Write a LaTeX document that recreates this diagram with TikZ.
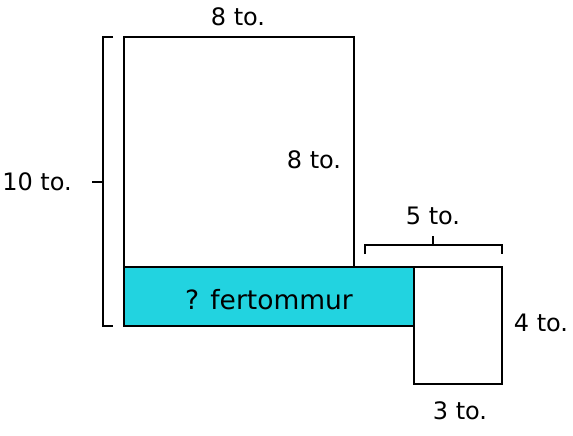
\documentclass[tikz,border=0pt]{standalone}
\usepackage{fontspec}
\setmainfont{DejaVu Sans}
\usetikzlibrary{positioning}
\definecolor{fillcyan}{HTML}{22D3E0}

\begin{document}
\begin{tikzpicture}[x=1pt,y=-1pt,line width=1.9pt,
	box/.style={draw,anchor=north west,inner sep=0pt,outer sep=0pt},
	lab/.style={font=\fontsize{24}{26}\selectfont,inner sep=0pt}]
	\useasboundingbox (0,0) rectangle (573,436);
	
	\node[box,minimum width=230pt,minimum height=230pt] (sq) at (124,37) {};
	\node[box,fill=fillcyan,minimum width=290pt,minimum height=59pt] (strip) at (124,267) {};
	\node[box,minimum width=88pt,minimum height=117pt] (small) at (414,267) {};
	\node[lab,font=\fontsize{26.5}{28}\selectfont] (name) at ([yshift=-3pt]strip.center) {? fertommur};
	
	% labels
	\node[lab] (top) at (238,17) {8 to.};
	\node[lab] (side) at (314,160) {8 to.};
	\node[lab] (ten) at (37,182) {10 to.};
	\node[lab] (five) at (433,216) {5 to.};
	\node[lab] (four) at (541,323) {4 to.};
	\node[lab] (three) at (460,411) {3 to.};
	
	% brackets
	\coordinate (lb) at (103,182);
	\draw (113,37) -- (103,37) -- (103,326) -- (113,326);
	\draw (lb) -- +(-11,0);
	\coordinate (tb) at (433,245);
	\draw (365,254) -- (365,245) -- (502,245) -- (502,254);
	\draw (tb) -- +(0,-9);
\end{tikzpicture}
\end{document}
